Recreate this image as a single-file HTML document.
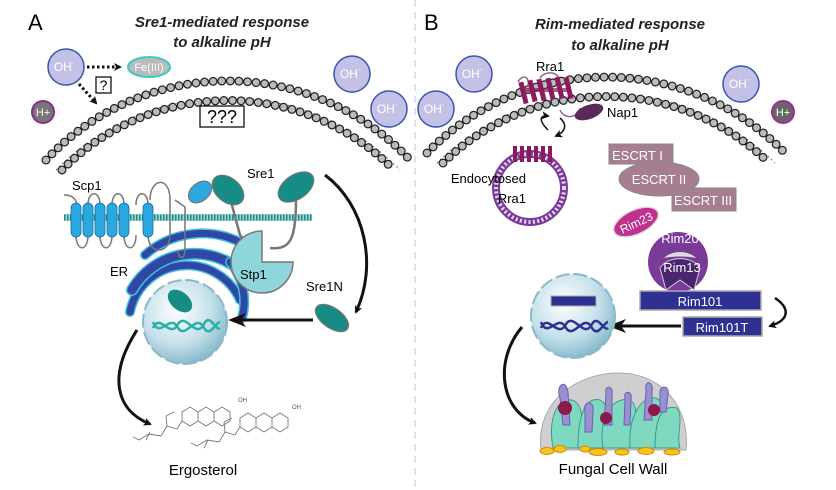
<!DOCTYPE html>
<html><head><meta charset="utf-8"><style>
html,body{margin:0;padding:0;background:#fff;}
svg{display:block;font-family:"Liberation Sans",sans-serif;}
</style></head><body>
<svg width="836" height="490" viewBox="0 0 836 490" xmlns="http://www.w3.org/2000/svg">
<defs>
<marker id="ah" markerWidth="8" markerHeight="8" refX="6" refY="4" orient="auto" markerUnits="userSpaceOnUse"><path d="M0,0 L8,4 L0,8 L2,4 z" fill="#111"/></marker>
<marker id="ahb" markerWidth="18" markerHeight="14" refX="14" refY="7" orient="auto" markerUnits="userSpaceOnUse"><path d="M0,0 L18,7 L0,14 L5,7 z" fill="#111"/></marker>
<radialGradient id="nuc" cx="0.4" cy="0.35" r="0.7"><stop offset="0" stop-color="#ffffff"/><stop offset="0.6" stop-color="#c4e0ea"/><stop offset="1" stop-color="#7fb4c8"/></radialGradient>
</defs>
<line x1="415" y1="0" x2="415" y2="490" stroke="#b8c8d8" stroke-width="1" stroke-dasharray="7,5"/>

<text x="28" y="30" font-size="22">A</text>
<text x="222" y="27" font-size="15" font-weight="bold" font-style="italic" text-anchor="middle" fill="#222">Sre1-mediated response</text>
<text x="222" y="47" font-size="15" font-weight="bold" font-style="italic" text-anchor="middle" fill="#222">to alkaline pH</text>

<g fill="none">
<path d="M56,170 A241,241 0 0 1 400,170" stroke="#fff" stroke-width="10"/>
<path d="M56,170 A241,241 0 0 1 400,170" stroke="#555" stroke-width="1" stroke-dasharray="1.5,3"/>
<path d="M46,160 A249,249 0 0 1 410,160" stroke="#222" stroke-width="9" stroke-linecap="round" stroke-dasharray="0,8.6"/>
<path d="M46,160 A249,249 0 0 1 410,160" stroke="#bbb" stroke-width="6.5" stroke-linecap="round" stroke-dasharray="0,8.6"/>
<path d="M62,170 A233,233 0 0 1 394,170" stroke="#222" stroke-width="9" stroke-linecap="round" stroke-dasharray="0,8.6"/>
<path d="M62,170 A233,233 0 0 1 394,170" stroke="#bbb" stroke-width="6.5" stroke-linecap="round" stroke-dasharray="0,8.6"/>
</g>
<g fill="none">
<path d="M437,163 A241,241 0 0 1 775,163" stroke="#fff" stroke-width="10"/>
<path d="M437,163 A241,241 0 0 1 775,163" stroke="#555" stroke-width="1" stroke-dasharray="1.5,3"/>
<path d="M427,153 A249,249 0 0 1 785,153" stroke="#222" stroke-width="9" stroke-linecap="round" stroke-dasharray="0,8.6"/>
<path d="M427,153 A249,249 0 0 1 785,153" stroke="#bbb" stroke-width="6.5" stroke-linecap="round" stroke-dasharray="0,8.6"/>
<path d="M443,163 A233,233 0 0 1 769,163" stroke="#222" stroke-width="9" stroke-linecap="round" stroke-dasharray="0,8.6"/>
<path d="M443,163 A233,233 0 0 1 769,163" stroke="#bbb" stroke-width="6.5" stroke-linecap="round" stroke-dasharray="0,8.6"/>
</g>

<g font-size="12" fill="#fff" text-anchor="middle">
<circle cx="66" cy="67" r="18" fill="#c3c2e6" stroke="#3a55b0" stroke-width="1.5"/><text x="64" y="71">OH<tspan font-size="7" dy="-6">-</tspan></text>
<circle cx="352" cy="74" r="18" fill="#c3c2e6" stroke="#3a55b0" stroke-width="1.5"/><text x="350" y="78">OH<tspan font-size="7" dy="-6">-</tspan></text>
<circle cx="389" cy="109" r="18" fill="#c3c2e6" stroke="#3a55b0" stroke-width="1.5"/><text x="387" y="113">OH<tspan font-size="7" dy="-6">-</tspan></text>
<circle cx="43" cy="112" r="11" fill="#777" stroke="#8a2b8e" stroke-width="2"/><text x="43" y="116" font-size="11">H+</text>
<ellipse cx="149" cy="67" rx="21" ry="10" fill="#bbb" stroke="#3fc8c8" stroke-width="2"/><text x="149" y="71" font-size="11">Fe(III)</text>
</g>
<line x1="87" y1="67" x2="120" y2="67" stroke="#111" stroke-width="3" stroke-dasharray="2.5,2.5" marker-end="url(#ah)"/>
<line x1="79" y1="84" x2="96" y2="103" stroke="#111" stroke-width="3" stroke-dasharray="2.5,2.5" marker-end="url(#ah)"/>
<rect x="96" y="77" width="15" height="16" fill="#fff" stroke="#111" stroke-width="1.3"/>
<text x="103.5" y="90" font-size="14" text-anchor="middle">?</text>
<rect x="200" y="106" width="44" height="21" fill="#fff" stroke="#111" stroke-width="1.3"/>
<text x="222" y="123" font-size="18" text-anchor="middle">???</text>

<g fill="none" stroke-linecap="round">
<path d="M130,312 A58,58 0 0 1 240,300" stroke="#40c0d8" stroke-width="10"/>
<path d="M130,312 A58,58 0 0 1 240,300" stroke="#3147a6" stroke-width="7"/>
<path d="M132,290 A72,72 0 0 1 250,280" stroke="#40c0d8" stroke-width="12"/>
<path d="M132,290 A72,72 0 0 1 250,280" stroke="#3147a6" stroke-width="9"/>
<path d="M145,255 A86,86 0 0 1 245,245" stroke="#40c0d8" stroke-width="10"/>
<path d="M145,255 A86,86 0 0 1 245,245" stroke="#3147a6" stroke-width="7"/>
<path d="M230,262 A62,62 0 0 1 242,318" stroke="#40c0d8" stroke-width="10"/>
<path d="M230,262 A62,62 0 0 1 242,318" stroke="#3147a6" stroke-width="7"/>
</g>
<text x="110" y="276" font-size="13">ER</text>
<rect x="64" y="214" width="248" height="7" fill="#9fd8d4"/>
<line x1="64" y1="217.5" x2="312" y2="217.5" stroke="#1e8a84" stroke-width="6" stroke-dasharray="1.5,1.5"/>
<path d="M64,195 C80,195 78,210 76,215 M76,235 C76,252 88,252 88,235 M88,205 C88,190 100,190 100,205 M100,235 C100,252 112,252 112,235 M112,205 C112,190 124,190 124,205 M124,235 C124,252 136,252 136,235 M136,205 C136,190 148,190 148,205 M148,235 C148,255 170,255 170,235 L170,200 C170,175 150,178 150,200" fill="none" stroke="#777" stroke-width="1.5"/>
<g fill="#2aa9e0" stroke="#1a6aa0" stroke-width="0.8">
<rect x="71" y="203" width="10" height="34" rx="5"/><rect x="83" y="203" width="10" height="34" rx="5"/><rect x="95" y="203" width="10" height="34" rx="5"/><rect x="107" y="203" width="10" height="34" rx="5"/><rect x="119" y="203" width="10" height="34" rx="5"/><rect x="143" y="203" width="10" height="34" rx="5"/>
</g>
<text x="72" y="190" font-size="13">Scp1</text>
<path d="M175,200 L185,207 L185,250 C185,260 178,260 178,250" fill="none" stroke="#777" stroke-width="1.5"/>
<path d="M230,198 L240,235 L250,248 M296,200 C296,240 290,250 270,248" fill="none" stroke="#777" stroke-width="2.5"/>
<ellipse cx="200" cy="192" rx="13" ry="9" transform="rotate(-40 200 192)" fill="#2aa9e0" stroke="#777" stroke-width="1.2"/>
<ellipse cx="228" cy="190" rx="18" ry="12" transform="rotate(40 228 190)" fill="#168c84" stroke="#777" stroke-width="1.2"/>
<ellipse cx="296" cy="187" rx="20" ry="12" transform="rotate(-35 296 187)" fill="#168c84" stroke="#777" stroke-width="1.2"/>
<text x="247" y="178" font-size="13">Sre1</text>
<path d="M262,262 L293,262 A31,31 0 1 1 262,231 Z" fill="#8fd5dc" stroke="#777" stroke-width="1.5"/>
<text x="240" y="279" font-size="13">Stp1</text>
<path d="M325,175 C365,205 378,265 356,312" fill="none" stroke="#111" stroke-width="3" marker-end="url(#ah)"/>
<text x="306" y="291" font-size="13">Sre1N</text>
<ellipse cx="332" cy="318" rx="19" ry="10" transform="rotate(35 332 318)" fill="#168c84" stroke="#777" stroke-width="1.2"/>
<line x1="313" y1="320" x2="232" y2="320" stroke="#111" stroke-width="3" marker-end="url(#ahb)"/>
<circle cx="185" cy="322" r="42" fill="url(#nuc)" stroke="#8cb8c8" stroke-width="2" stroke-dasharray="14,4"/>
<ellipse cx="180" cy="301" rx="14" ry="9" transform="rotate(40 180 301)" fill="#168c84"/>
<path d="M153,328 C160,312 170,340 178,324 C186,312 196,340 204,324 C210,312 216,332 220,328" fill="none" stroke="#2ab0a8" stroke-width="2.5"/>
<path d="M153,322 C160,340 170,312 178,328 C186,340 196,312 204,328 C210,338 216,322 220,322" fill="none" stroke="#2ab0a8" stroke-width="2.5"/>
<path d="M137,330 C108,375 115,410 150,424" fill="none" stroke="#111" stroke-width="3" marker-end="url(#ah)"/>
<g fill="none" stroke="#777" stroke-width="0.9">
<path d="M182,412 l8,-5 l8,5 l0,9 l-8,5 l-8,-5 z M198,412 l8,-5 l8,5 l0,9 l-8,5 l-8,-5 z M214,412 l8,-5 l8,5 l0,9 l-8,5 l-8,-5 z M182,421 l-5,8 l-10,-3 l-1,-10 l8,-4 M167,426 l-6,10 l-12,-2 l-10,6 l-6,-3 M150,432 l-4,8"/>
<path d="M240,418 l8,-5 l8,5 l0,9 l-8,5 l-8,-5 z M256,418 l8,-5 l8,5 l0,9 l-8,5 l-8,-5 z M272,418 l8,-5 l8,5 l0,9 l-8,5 l-8,-5 z M240,427 l-5,8 l-10,-3 l-1,-10 l8,-4 M225,432 l-6,10 l-12,-2 l-10,6 l-6,-3 M208,440 l-4,8"/>
</g>
<text x="238" y="402" font-size="6" fill="#555">OH</text><text x="292" y="409" font-size="6" fill="#555">OH</text>
<text x="203" y="475" font-size="15" text-anchor="middle">Ergosterol</text>

<text x="424" y="30" font-size="22">B</text>
<text x="620" y="29" font-size="15" font-weight="bold" font-style="italic" text-anchor="middle" fill="#222">Rim-mediated response</text>
<text x="620" y="50" font-size="15" font-weight="bold" font-style="italic" text-anchor="middle" fill="#222">to alkaline pH</text>
<g font-size="12" fill="#fff" text-anchor="middle">
<circle cx="474" cy="74" r="18" fill="#c3c2e6" stroke="#3a55b0" stroke-width="1.5"/><text x="472" y="78">OH<tspan font-size="7" dy="-6">-</tspan></text>
<circle cx="436" cy="109" r="18" fill="#c3c2e6" stroke="#3a55b0" stroke-width="1.5"/><text x="434" y="113">OH<tspan font-size="7" dy="-6">-</tspan></text>
<circle cx="741" cy="84" r="18" fill="#c3c2e6" stroke="#3a55b0" stroke-width="1.5"/><text x="739" y="88">OH<tspan font-size="7" dy="-6">-</tspan></text>
<circle cx="783" cy="112" r="11" fill="#666" stroke="#a02a98" stroke-width="2"/><text x="783" y="116" font-size="11">H+</text>
</g>
<path d="M518,82 C522,74 530,76 528,86 M560,110 C564,120 578,118 580,108 M540,78 C545,70 560,72 558,80" fill="none" stroke="#8a6a8a" stroke-width="1.5"/>
<g fill="#8b1a5e">
<rect x="521" y="82" width="5" height="22" transform="rotate(-14 523 93)"/><rect x="530" y="80" width="5" height="22" transform="rotate(-14 532 91)"/><rect x="539" y="79" width="5" height="22" transform="rotate(-14 541 90)"/><rect x="548" y="78" width="5" height="22" transform="rotate(-14 550 89)"/><rect x="557" y="77" width="5" height="22" transform="rotate(-14 559 88)"/><rect x="566" y="77" width="5" height="22" transform="rotate(-14 568 88)"/>
<rect x="520" y="88" width="50" height="4" rx="2" opacity="0.7"/>
</g>
<text x="536" y="71" font-size="13">Rra1</text>
<ellipse cx="589" cy="112" rx="15" ry="7" transform="rotate(-20 589 112)" fill="#5a2a5a"/>
<text x="607" y="117" font-size="13">Nap1</text>
<path d="M548,130 C538,120 540,115 548,116" fill="none" stroke="#111" stroke-width="1.5" marker-end="url(#ah)"/>
<path d="M560,118 C568,125 565,132 556,136" fill="none" stroke="#111" stroke-width="1.5" marker-end="url(#ah)"/>
<circle cx="530" cy="188" r="34" fill="none" stroke="#7a3a9a" stroke-width="8"/>
<circle cx="530" cy="188" r="34" fill="none" stroke="#e8d8f0" stroke-width="4" stroke-dasharray="2,2.4"/>
<g fill="#8b1a5e"><rect x="513" y="146" width="4" height="16"/><rect x="520" y="146" width="4" height="16"/><rect x="527" y="146" width="4" height="16"/><rect x="534" y="146" width="4" height="16"/><rect x="541" y="146" width="4" height="16"/><rect x="548" y="146" width="4" height="16"/></g>
<text x="526" y="183" font-size="13" text-anchor="end">Endocytosed</text>
<text x="526" y="203" font-size="13" text-anchor="end">Rra1</text>
<rect x="609" y="144" width="64" height="20" fill="#a77e8f" stroke="#888"/>
<text x="612" y="160" font-size="13" fill="#fff">ESCRT I</text>
<rect x="672" y="188" width="64" height="23" fill="#a77e8f" stroke="#888"/>
<ellipse cx="659" cy="179" rx="40" ry="17" fill="#a77e8f" stroke="#888"/>
<text x="659" y="184" font-size="13" fill="#fff" text-anchor="middle">ESCRT II</text>
<text x="674" y="205" font-size="13" fill="#fff">ESCRT III</text>
<circle cx="678" cy="262" r="30" fill="#7a3a9a"/>
<path d="M660,268 A22,16 0 0 1 700,268 L694,290 L680,280 L666,290 Z" fill="#4a2570" stroke="#ccc" stroke-width="1"/>
<path d="M664,258 C672,250 688,250 696,258 C688,256 672,256 664,258 Z" fill="#ddd"/>
<ellipse cx="636" cy="222" rx="24" ry="12" transform="rotate(-25 636 222)" fill="#c0308f" stroke="#ddd" stroke-width="1.5"/>
<text x="636" y="227" font-size="12" fill="#fff" text-anchor="middle" transform="rotate(-25 636 222)">Rim23</text>
<text x="680" y="243" font-size="13" fill="#fff" text-anchor="middle">Rim20</text>
<text x="682" y="272" font-size="13" fill="#fff" text-anchor="middle">Rim13</text>
<rect x="640" y="291" width="121" height="19" fill="#2e3192" stroke="#aaa" stroke-width="1.5"/>
<text x="700" y="306" font-size="13" fill="#fff" text-anchor="middle">Rim101</text>
<rect x="683" y="317" width="79" height="19" fill="#2e3192" stroke="#aaa" stroke-width="1.5"/>
<text x="722" y="332" font-size="13" fill="#fff" text-anchor="middle">Rim101T</text>
<path d="M775,298 C790,308 790,320 770,326" fill="none" stroke="#111" stroke-width="2.5" marker-end="url(#ah)"/>
<line x1="681" y1="326" x2="612" y2="326" stroke="#111" stroke-width="3" marker-end="url(#ahb)"/>
<circle cx="573" cy="316" r="42" fill="url(#nuc)" stroke="#8cb8c8" stroke-width="2" stroke-dasharray="14,4"/>
<rect x="551" y="296" width="45" height="10" fill="#2e3192" stroke="#aaa"/>
<path d="M541,328 C548,312 558,340 566,324 C574,312 584,340 592,324 C598,314 604,332 608,328" fill="none" stroke="#2e3192" stroke-width="2.5"/>
<path d="M541,322 C548,340 558,312 566,328 C574,340 584,312 592,328 C598,338 604,322 608,322" fill="none" stroke="#2e3192" stroke-width="2.5"/>
<path d="M522,327 C494,360 500,410 535,423" fill="none" stroke="#111" stroke-width="3" marker-end="url(#ah)"/>
<path d="M541,450 C535,400 580,372 620,373 C665,374 690,410 686,450 Z" fill="#cfcfd2" stroke="#aaa"/>
<g fill="#7fd8c0" stroke="#3a9a8a" stroke-width="1">
<path d="M553,448 C548,420 556,398 572,400 C586,404 580,430 588,448 Z"/>
<path d="M578,448 C578,418 584,396 600,400 C616,410 606,430 612,448 Z"/>
<path d="M603,448 C598,418 612,396 630,400 C642,408 630,430 640,448 Z"/>
<path d="M630,448 C628,418 640,396 656,398 C672,406 660,430 668,448 Z"/>
<path d="M655,448 C655,418 662,404 677,408 C684,418 676,435 680,448 Z"/>
</g>
<g fill="#9a90d0" stroke="#6a60b0" stroke-width="1">
<path d="M560,398 C555,385 566,378 568,392 L570,425 L563,425 Z"/>
<path d="M606,393 C604,385 614,385 612,395 L612,425 L604,425 Z"/>
<path d="M646,390 C644,380 654,380 652,392 L652,420 L644,420 Z"/>
<path d="M585,410 C583,400 595,400 593,412 L592,432 L585,432 Z"/>
<path d="M660,392 C660,385 670,385 668,395 L666,412 L660,412 Z"/>
<path d="M625,398 C623,390 633,390 631,400 L630,425 L624,425 Z"/>
</g>
<g fill="#8b1a4a"><circle cx="565" cy="408" r="7"/><circle cx="606" cy="418" r="6"/><circle cx="654" cy="410" r="6"/></g>
<g fill="#f5c518" stroke="#d08a00" stroke-width="1">
<ellipse cx="547" cy="451" rx="7" ry="3.5"/><ellipse cx="560" cy="449" rx="6" ry="3.5"/><ellipse cx="598" cy="452" rx="9" ry="3.5"/><ellipse cx="622" cy="452" rx="7" ry="3"/><ellipse cx="646" cy="451" rx="8" ry="3.5"/><ellipse cx="672" cy="452" rx="8" ry="3"/><ellipse cx="585" cy="449" rx="5" ry="3"/>
</g>
<text x="613" y="474" font-size="15" text-anchor="middle">Fungal Cell Wall</text>
</svg>
</body></html>
